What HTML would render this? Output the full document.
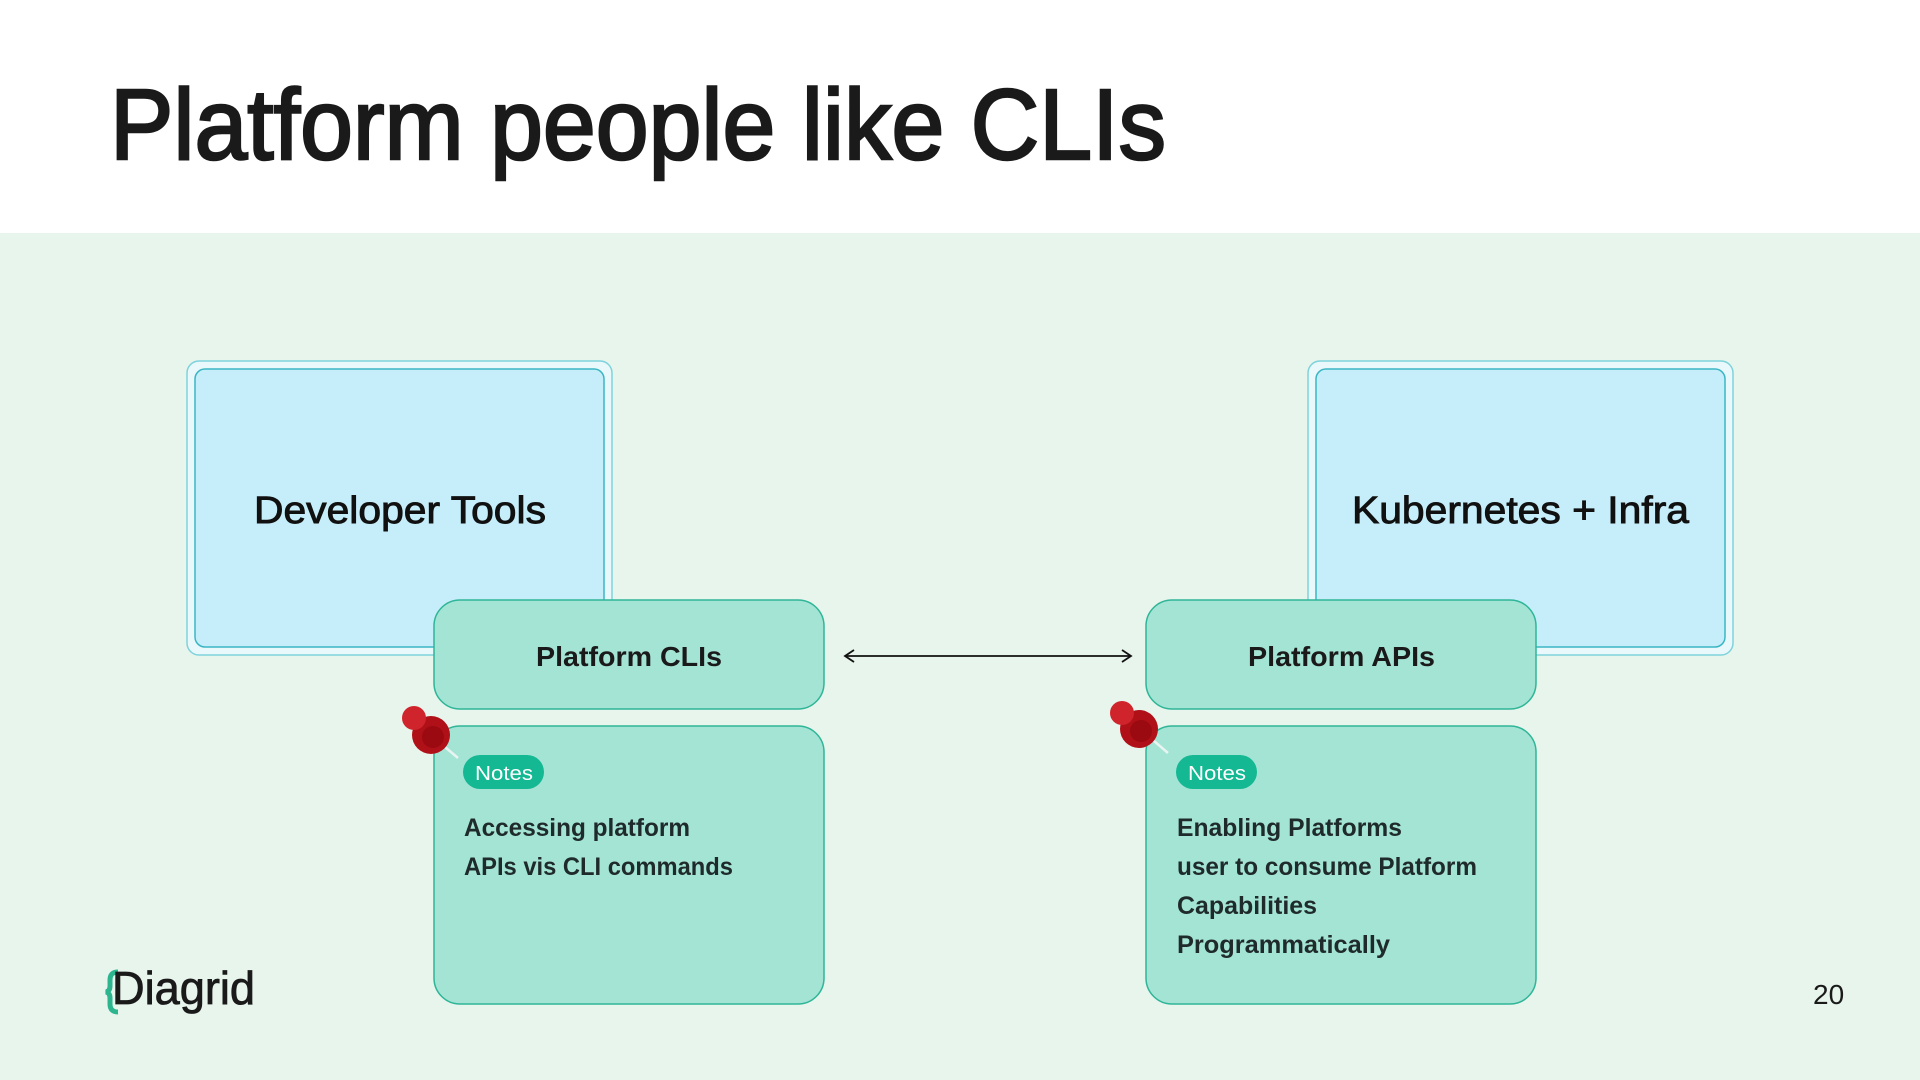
<!DOCTYPE html>
<html><head><meta charset="utf-8"><style>
html,body{margin:0;padding:0;width:1920px;height:1080px;overflow:hidden;background:#fff}
svg{display:block}
text{font-family:"Liberation Sans",sans-serif}
</style></head><body>
<svg width="1920" height="1080" viewBox="0 0 1920 1080" xmlns="http://www.w3.org/2000/svg">
<rect x="0" y="0" width="1920" height="233" fill="#ffffff"/>
<rect x="0" y="233" width="1920" height="847" fill="#e7f5ec"/>
<text x="110" y="159" font-size="100" fill="#1a1a1a" stroke="#1a1a1a" stroke-width="2.5" textLength="1056" lengthAdjust="spacingAndGlyphs">Platform people like CLIs</text>

<!-- Developer tools -->
<rect x="187" y="361" width="425" height="294" rx="12" fill="#e9f8fb" stroke="#7fd3dc" stroke-width="1.5"/>
<rect x="195" y="369" width="409" height="278" rx="10" fill="#c6eefa" stroke="#3ab6c4" stroke-width="1.5"/>
<text x="254" y="523" font-size="38" fill="#111" stroke="#111" stroke-width="0.9" textLength="292" lengthAdjust="spacingAndGlyphs">Developer Tools</text>

<rect x="1308" y="361" width="425" height="294" rx="12" fill="#e9f8fb" stroke="#7fd3dc" stroke-width="1.5"/>
<rect x="1316" y="369" width="409" height="278" rx="10" fill="#c6eefa" stroke="#3ab6c4" stroke-width="1.5"/>
<text x="1352" y="523" font-size="38" fill="#111" stroke="#111" stroke-width="0.9" textLength="337" lengthAdjust="spacingAndGlyphs">Kubernetes + Infra</text>

<!-- Platform nodes -->
<rect x="434" y="600" width="390" height="109" rx="26" fill="#a3e4d5" stroke="#2fb597" stroke-width="1.5"/>
<text x="536" y="666" font-size="28" font-weight="bold" fill="#1a1a1a" textLength="186" lengthAdjust="spacingAndGlyphs">Platform CLIs</text>
<rect x="1146" y="600" width="390" height="109" rx="26" fill="#a3e4d5" stroke="#2fb597" stroke-width="1.5"/>
<text x="1248" y="666" font-size="28" font-weight="bold" fill="#1a1a1a" textLength="187" lengthAdjust="spacingAndGlyphs">Platform APIs</text>

<!-- arrow -->
<line x1="846" y1="656" x2="1130" y2="656" stroke="#111" stroke-width="1.8"/>
<polyline points="854,650 845,656 854,662" fill="none" stroke="#111" stroke-width="1.8"/>
<polyline points="1122,650 1131,656 1122,662" fill="none" stroke="#111" stroke-width="1.8"/>

<!-- Notes boxes -->
<rect x="434" y="726" width="390" height="278" rx="26" fill="#a3e4d5" stroke="#2fb597" stroke-width="1.5"/>
<rect x="463" y="755" width="81" height="34" rx="17" fill="#14b892"/>
<text x="475" y="780" font-size="20" fill="#fff" textLength="58" lengthAdjust="spacingAndGlyphs">Notes</text>
<text x="464" y="836" font-size="25" font-weight="bold" fill="#1f2a2a" textLength="226" lengthAdjust="spacingAndGlyphs">Accessing platform</text>
<text x="464" y="875" font-size="25" font-weight="bold" fill="#1f2a2a" textLength="269" lengthAdjust="spacingAndGlyphs">APIs vis CLI commands</text>

<rect x="1146" y="726" width="390" height="278" rx="26" fill="#a3e4d5" stroke="#2fb597" stroke-width="1.5"/>
<rect x="1176" y="755" width="81" height="34" rx="17" fill="#14b892"/>
<text x="1188" y="780" font-size="20" fill="#fff" textLength="58" lengthAdjust="spacingAndGlyphs">Notes</text>
<text x="1177" y="836" font-size="25" font-weight="bold" fill="#1f2a2a" textLength="225" lengthAdjust="spacingAndGlyphs">Enabling Platforms</text>
<text x="1177" y="875" font-size="25" font-weight="bold" fill="#1f2a2a" textLength="300" lengthAdjust="spacingAndGlyphs">user to consume Platform</text>
<text x="1177" y="914" font-size="25" font-weight="bold" fill="#1f2a2a" textLength="140" lengthAdjust="spacingAndGlyphs">Capabilities</text>
<text x="1177" y="953" font-size="25" font-weight="bold" fill="#1f2a2a" textLength="213" lengthAdjust="spacingAndGlyphs">Programmatically</text>

<!-- pins -->
<g>
<line x1="432" y1="736" x2="458" y2="758" stroke="#e8f4f0" stroke-width="2.5"/>
<circle cx="431" cy="735" r="19" fill="#b01018"/>
<circle cx="433" cy="737" r="11" fill="#9a0a10"/>
<circle cx="414" cy="718" r="12" fill="#d0242c"/>
</g>
<g>
<line x1="1140" y1="729" x2="1168" y2="753" stroke="#e8f4f0" stroke-width="2.5"/>
<circle cx="1139" cy="729" r="19" fill="#b01018"/>
<circle cx="1141" cy="731" r="11" fill="#9a0a10"/>
<circle cx="1122" cy="713" r="12" fill="#d0242c"/>
</g>

<!-- logo -->
<path d="M118 972 q-8 0 -8 8 v6 q0 5 -4 6 q4 1 4 6 v6 q0 8 8 8" fill="none" stroke="#2cb58f" stroke-width="5"/>
<text x="112" y="1004" font-size="46" fill="#1a1a1a" stroke="#1a1a1a" stroke-width="0.8" textLength="143" lengthAdjust="spacingAndGlyphs">Diagrid</text>
<text x="1813" y="1004" font-size="28" fill="#1a1a1a">20</text>
</svg>
</body></html>
